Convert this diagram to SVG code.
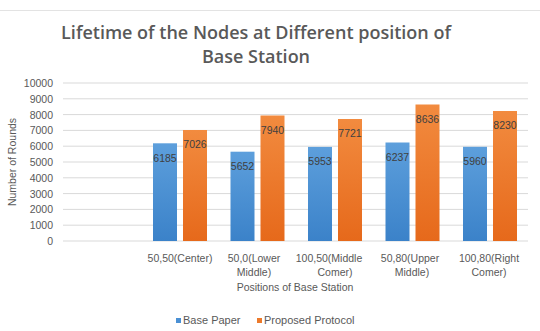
<svg xmlns="http://www.w3.org/2000/svg" width="540" height="331" viewBox="0 0 540 331">
<defs>
<linearGradient id="gb" x1="0" y1="0" x2="0" y2="1"><stop offset="0" stop-color="#5d9fdc"/><stop offset="1" stop-color="#3b82c9"/></linearGradient>
<linearGradient id="go" x1="0" y1="0" x2="0" y2="1"><stop offset="0" stop-color="#f28b3f"/><stop offset="1" stop-color="#e6691b"/></linearGradient>
</defs>
<style>
.grid{stroke:#d9d9d9;stroke-width:1}
.tick{font-family:"Liberation Sans",Arial,sans-serif;font-size:10.5px;fill:#595959;text-anchor:end}
.cat{font-family:"Liberation Sans",Arial,sans-serif;font-size:10.5px;fill:#595959;text-anchor:middle}
.val{font-family:"Liberation Sans",Arial,sans-serif;font-size:10.5px;fill:#404040;text-anchor:middle}
.title{font-family:"Open Sans",sans-serif;font-weight:600;font-size:18px;fill:#595959;text-anchor:middle}
.leg{font-family:"Liberation Sans",Arial,sans-serif;font-size:11px;fill:#595959}
.b{fill:url(#gb)}
.o{fill:url(#go)}
</style>
<rect width="540" height="331" fill="#ffffff"/>
<line x1="0" y1="10.5" x2="540" y2="10.5" stroke="#e3e3e3"/>
<g id="title">
<text class="title" x="256" y="38.5">Lifetime of the Nodes at Different position of</text>
<text class="title" x="256" y="62.5">Base Station</text>
</g>
<g id="gridlines">
<line class="grid" x1="63" y1="83" x2="528" y2="83"/>
<line class="grid" x1="63" y1="98.8" x2="528" y2="98.8"/>
<line class="grid" x1="63" y1="114.6" x2="528" y2="114.6"/>
<line class="grid" x1="63" y1="130.4" x2="528" y2="130.4"/>
<line class="grid" x1="63" y1="146.2" x2="528" y2="146.2"/>
<line class="grid" x1="63" y1="162" x2="528" y2="162"/>
<line class="grid" x1="63" y1="177.8" x2="528" y2="177.8"/>
<line class="grid" x1="63" y1="193.6" x2="528" y2="193.6"/>
<line class="grid" x1="63" y1="209.4" x2="528" y2="209.4"/>
<line class="grid" x1="63" y1="225.2" x2="528" y2="225.2"/>
<line class="grid" x1="63" y1="241" x2="528" y2="241"/>
</g>
<g id="yaxis">
<text class="tick" x="53" y="87">10000</text>
<text class="tick" x="53" y="102.8">9000</text>
<text class="tick" x="53" y="118.6">8000</text>
<text class="tick" x="53" y="134.4">7000</text>
<text class="tick" x="53" y="150.2">6000</text>
<text class="tick" x="53" y="166">5000</text>
<text class="tick" x="53" y="181.8">4000</text>
<text class="tick" x="53" y="197.6">3000</text>
<text class="tick" x="53" y="213.4">2000</text>
<text class="tick" x="53" y="229.2">1000</text>
<text class="tick" x="53" y="245">0</text>
<text font-family="Liberation Sans,Arial,sans-serif" font-size="10.5" fill="#595959" text-anchor="middle" transform="translate(16,162) rotate(-90)">Number of Rounds</text>
</g>
<g id="bars">
<rect class="b" x="153" y="143.3" width="24" height="97.7"/>
<rect class="o" x="183" y="130" width="24" height="111"/>
<rect class="b" x="230.5" y="151.7" width="24" height="89.3"/>
<rect class="o" x="260.5" y="115.5" width="24" height="125.5"/>
<rect class="b" x="308" y="146.9" width="24" height="94.1"/>
<rect class="o" x="338" y="119" width="24" height="122"/>
<rect class="b" x="385.5" y="142.5" width="24" height="98.5"/>
<rect class="o" x="415.5" y="104.5" width="24" height="136.5"/>
<rect class="b" x="463" y="146.8" width="24" height="94.2"/>
<rect class="o" x="493" y="111" width="24" height="130"/>
</g>
<g id="values">
<text class="val" x="165" y="161.5">6185</text>
<text class="val" x="195" y="148">7026</text>
<text class="val" x="242.5" y="169.5">5652</text>
<text class="val" x="272.5" y="133.5">7940</text>
<text class="val" x="320" y="165">5953</text>
<text class="val" x="350" y="137">7721</text>
<text class="val" x="397.5" y="160.5">6237</text>
<text class="val" x="427.5" y="122.5">8636</text>
<text class="val" x="475" y="164.8">5960</text>
<text class="val" x="505" y="129">8230</text>
</g>
<g id="categories">
<text class="cat" x="180" y="262">50,50(Center)</text>
<text class="cat" x="254" y="262">50,0(Lower</text>
<text class="cat" x="254" y="276">Middle)</text>
<text class="cat" x="329" y="262">100,50(Middle</text>
<text class="cat" x="335" y="276">Comer)</text>
<text class="cat" x="410" y="262">50,80(Upper</text>
<text class="cat" x="412" y="276">Middle)</text>
<text class="cat" x="489" y="262">100,80(Right</text>
<text class="cat" x="489" y="276">Comer)</text>
<text class="cat" x="295" y="291">Positions of Base Station</text>
</g>
<g id="legend">
<rect x="176" y="318" width="5" height="5" fill="#4a90d4"/>
<text class="leg" x="183" y="324">Base Paper</text>
<rect x="257" y="318" width="5" height="5" fill="#ec7a2c"/>
<text class="leg" x="264" y="324">Proposed Protocol</text>
</g>
</svg>
